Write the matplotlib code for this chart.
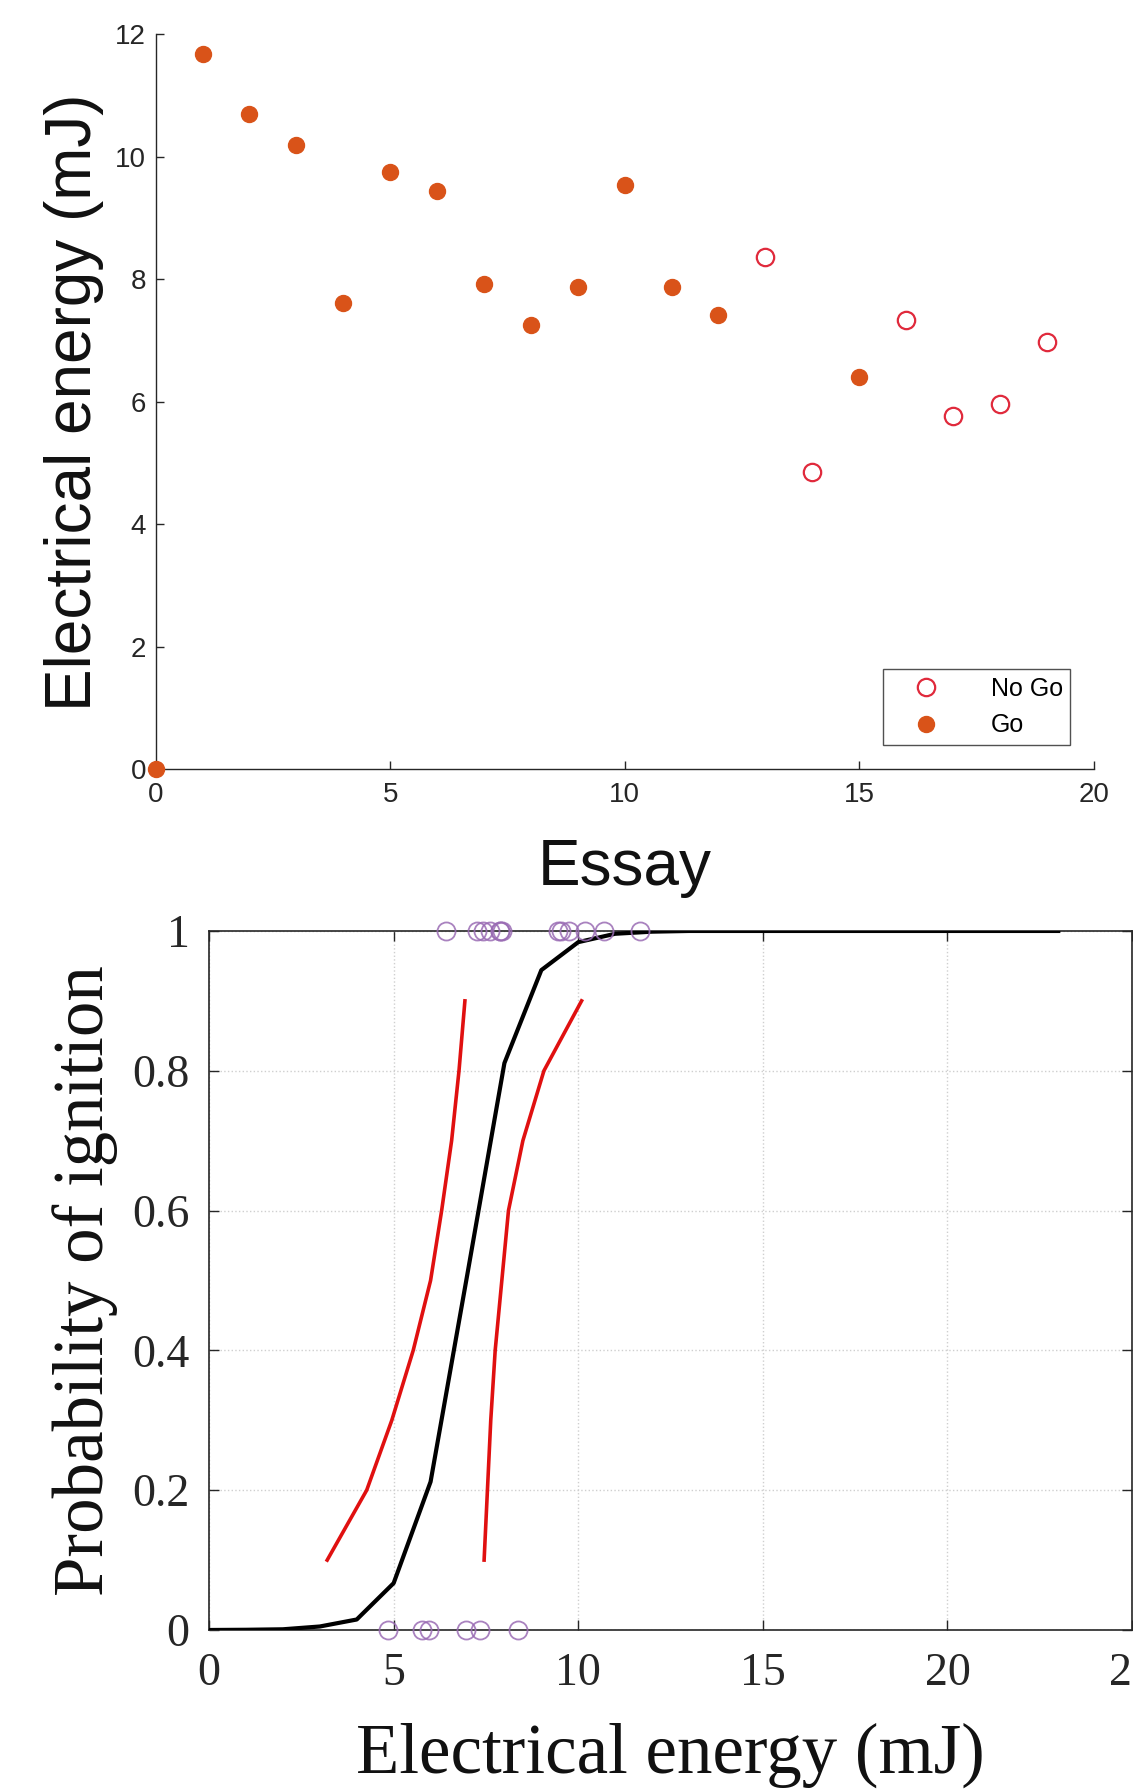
import matplotlib
matplotlib.use("Agg")
import matplotlib.pyplot as plt
from matplotlib.lines import Line2D

# top panel: energy per essay
essay_go = [0, 1, 2, 3, 4, 5, 6, 7, 8, 9, 10, 11, 12, 15]
energy_go = [0, 11.68, 10.70, 10.19, 7.61, 9.76, 9.44, 7.93, 7.25, 7.87, 9.54, 7.87, 7.41, 6.41]
essay_nogo = [13, 14, 16, 17, 18, 19]
energy_nogo = [8.36, 4.86, 7.34, 5.77, 5.96, 6.97]

# bottom panel: fitted probability curve and bounds
fit_x = list(range(0, 24))
fit_p = [0.0, 0.0003, 0.001, 0.005, 0.015, 0.067, 0.212, 0.51, 0.811, 0.944, 0.984,
         0.996, 0.999, 1.0, 1.0, 1.0, 1.0, 1.0, 1.0, 1.0, 1.0, 1.0, 1.0, 1.0]
bound_p = [0.1, 0.2, 0.3, 0.4, 0.5, 0.6, 0.7, 0.8, 0.9]
lower_x = [3.20, 4.27, 4.95, 5.53, 6.00, 6.30, 6.57, 6.77, 6.93]
upper_x = [7.45, 7.54, 7.63, 7.75, 7.93, 8.11, 8.50, 9.07, 10.09]

ORANGE = "#D95319"
RED_O = "#E02A3C"
PURPLE = "#9A6CB4"
DARK = "#262626"

fig = plt.figure(figsize=(11.33, 17.91), dpi=100)

# ---------------- top panel ----------------
ax1 = fig.add_axes([0.1374, 0.5705, 0.8279, 0.4103])
sans = ["Liberation Sans", "DejaVu Sans"]

ax1.plot(essay_nogo, energy_nogo, "o", mfc="none", mec=RED_O, ms=12.5, mew=1.6,
         clip_on=False, zorder=3)
ax1.plot(essay_go, energy_go, "o", mfc=ORANGE, mec=ORANGE, ms=11.5,
         clip_on=False, zorder=3)

ax1.set_xlim(0, 20)
ax1.set_ylim(0, 12)
ax1.set_xticks([0, 5, 10, 15, 20])
ax1.set_yticks([0, 2, 4, 6, 8, 10, 12])
for s in ["top", "right"]:
    ax1.spines[s].set_visible(False)
for s in ["left", "bottom"]:
    ax1.spines[s].set_color(DARK)
    ax1.spines[s].set_linewidth(1.0)
ax1.tick_params(direction="in", length=6, width=1, colors=DARK, labelsize=20)
ax1.tick_params(axis="y", pad=7)
ax1.tick_params(axis="x", pad=9)
for lab in ax1.get_xticklabels() + ax1.get_yticklabels():
    lab.set_family(sans)

ax1.set_xlabel("Essay", fontsize=46, family=sans, color="#111111")
ax1.set_ylabel("Electrical energy (mJ)", fontsize=46, family=sans, color="#111111")
ax1.xaxis.set_label_coords(0.5, -0.093)
ax1.yaxis.set_label_coords(-0.055, 0.5)

handles = [
    Line2D([], [], ls="none", marker="o", mfc="none", mec=RED_O, ms=12.5, mew=1.6),
    Line2D([], [], ls="none", marker="o", mfc=ORANGE, mec=ORANGE, ms=11.5),
]
leg = ax1.legend(handles, ["No Go", "Go"], loc="lower right",
                 bbox_to_anchor=(0.975, 0.033), prop={"family": sans, "size": 18},
                 frameon=True, fancybox=False, edgecolor=DARK, borderpad=0.3,
                 handletextpad=1.2, labelspacing=0.5, handlelength=2.8,
                 borderaxespad=0.0)
leg.get_frame().set_linewidth(1.0)

# ---------------- bottom panel ----------------
ax2 = fig.add_axes([0.1845, 0.0899, 0.8147, 0.3903])
serif = ["Liberation Serif", "DejaVu Serif"]

ax2.grid(True, ls=":", color="#cfcfcf", lw=1.0)
ax2.set_axisbelow(True)
ax2.plot(fit_x, fit_p, color="black", lw=3.0, zorder=3)
ax2.plot(lower_x, bound_p, color="#E01010", lw=2.6, zorder=3)
ax2.plot(upper_x, bound_p, color="#E01010", lw=2.6, zorder=3)
ax2.plot(energy_go[1:], [1] * len(energy_go[1:]), "o", mfc="none", mec=PURPLE,
         ms=13, mew=1.3, alpha=0.85, clip_on=False, zorder=4)
ax2.plot(energy_nogo, [0] * len(energy_nogo), "o", mfc="none", mec=PURPLE,
         ms=13, mew=1.3, alpha=0.85, clip_on=False, zorder=4)

ax2.set_xlim(0, 25)
ax2.set_ylim(0, 1)
ax2.set_xticks([0, 5, 10, 15, 20, 25])
ax2.set_xticklabels(["0", "5", "10", "15", "20", "25"])
ax2.set_yticks([0, 0.2, 0.4, 0.6, 0.8, 1])
ax2.set_yticklabels(["0", "0.2", "0.4", "0.6", "0.8", "1"])
for s in ax2.spines.values():
    s.set_color(DARK)
    s.set_linewidth(1.2)
ax2.tick_params(direction="in", length=7, width=1, colors=DARK, labelsize=33,
                top=True, right=True)
ax2.tick_params(axis="y", pad=14)
ax2.tick_params(axis="x", pad=16)
for lab in ax2.get_xticklabels() + ax2.get_yticklabels():
    lab.set_family(serif)

ax2.set_xlabel("Electrical energy (mJ)", fontsize=51, family=serif, color="#111111")
ax2.set_ylabel("Probability of ignition", fontsize=51, family=serif, color="#111111")
ax2.xaxis.set_label_coords(0.5, -0.133)
ax2.yaxis.set_label_coords(-0.099, 0.5)

fig.savefig("out.png", dpi=100)
